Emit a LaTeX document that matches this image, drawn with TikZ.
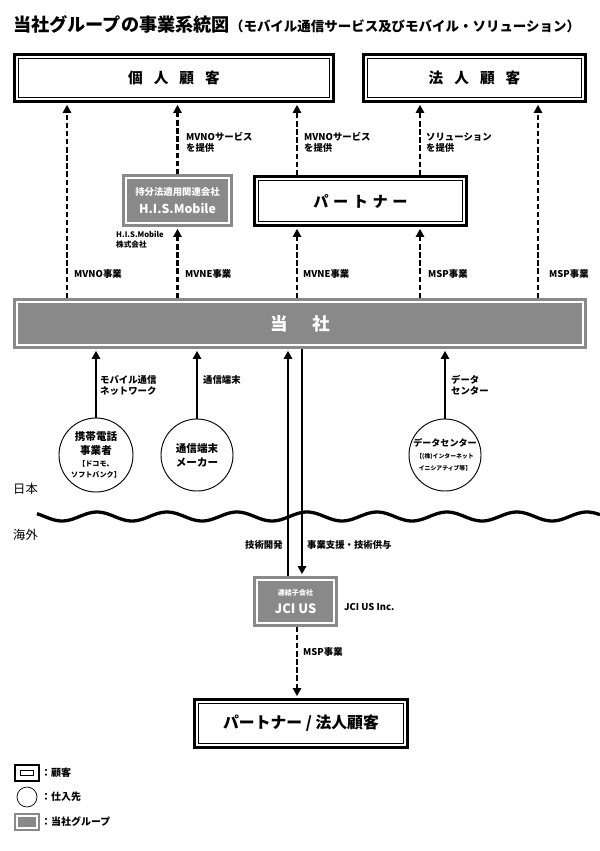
\documentclass[tikz,border=0pt]{standalone}
\usepackage{fontspec}
\setmainfont{Noto Sans CJK JP}
\usetikzlibrary{positioning,arrows.meta}
\definecolor{grpgray}{RGB}{137,137,137}
\newcommand\gp[1][0.75em]{\hspace{#1}}
\newcommand\fsbig{\fontsize{9}{11}\selectfont}
\newcommand\fssmall{\fontsize{6}{7.5}\selectfont}
\newcommand\fstiny{\fontsize{5}{6.2}\selectfont}

\begin{document}
\begin{tikzpicture}[x=0.03cm, y=-0.03cm,
  cust/.style={draw, line width=2.8pt, fill=white, inner sep=0pt, outer sep=1.4pt,
    path picture={\draw[line width=1pt]
      ([shift={(#1,-#1)}]path picture bounding box.north west) rectangle
      ([shift={(-#1,#1)}]path picture bounding box.south east);}},
  cust/.default=3.4pt,
  grp/.style={draw=grpgray, fill=grpgray, line width=2.2pt, double=white,
    double distance=2.4pt, outer sep=3.4pt, text=white, font=\bfseries,
    align=center, inner sep=0pt},
  vendor/.style={circle, draw, line width=0.8pt, inner sep=0pt, align=center,
    font=\bfseries},
  lbl/.style={anchor=west, align=left, inner sep=0pt,
    font=\fontsize{8}{9.4}\selectfont\bfseries},
  darr/.style={line width=2.3pt, dash pattern=on 4.5pt off 2.4pt, shorten >=1.5pt,
    -{Triangle[length=7pt,width=7pt]}},
  sarr/.style={line width=2pt, shorten >=1.5pt, -{Triangle[length=7pt,width=7pt]}},
]
\useasboundingbox (0,0) rectangle (600,851);

% Title
\node (title) [anchor=west, inner sep=0pt] at (13,24)
  {{\fontsize{15.5}{18}\selectfont\bfseries 当社グループの事業系統図}{\fontsize{11.5}{14}\selectfont\bfseries （モバイル通信サービス及びモバイル・ソリューション）}};

% Row 0: customers
\node (kojin) [cust, minimum width=9.56cm, minimum height=1.40cm,
  font=\fontsize{12.5}{14}\selectfont\bfseries] at (174,78) {個\gp 人\gp 顧\gp 客};
\node (hojin) [cust, minimum width=6.65cm, minimum height=1.40cm,
  font=\fontsize{12.5}{14}\selectfont\bfseries] at (474.5,78) {法\gp 人\gp 顧\gp 客};

% Row 1: H.I.S.Mobile and partner
\node (his) [grp, minimum width=3.09cm, minimum height=1.35cm] at (177.5,200.5)
  {{\fontsize{8}{10}\selectfont 持分法適用関連会社}\\[3pt]{\fontsize{10.5}{12}\selectfont H.I.S.Mobile}};
\node (partner) [cust, minimum width=6.35cm, minimum height=1.46cm,
  font=\fontsize{13}{15}\selectfont\bfseries] at (360.5,201)
  {パ\gp[.3em]ー\gp[.3em]ト\gp[.3em]ナ\gp[.3em]ー};

% Row 2: the company
\node (tosha) [grp, minimum width=16.98cm, minimum height=1.29cm,
  font=\fontsize{15}{18}\selectfont\bfseries] at (300,323.5) {当\hspace{1.4em}社};

% Row 3: suppliers
\node (carrier) [vendor, minimum size=2.22cm] at (96,455)
  {\fsbig 携帯電話\\\fsbig 事業者\\[-2pt]\fssmall 【ドコモ、\\[-2.5pt]\fssmall ソフトバンク】};
\node (maker) [vendor, minimum size=2.16cm] at (197,455)
  {\fsbig 通信端末\\\fsbig メーカー};
\node (dc) [vendor, minimum size=2.16cm] at (445,455)
  {{\fontsize{7.7}{9}\selectfont データセンター}\\[-1.5pt]\fstiny 【(株)インターネット\\[-2pt]\fstiny イニシアティブ等】};

% Row 4: overseas
\node (jci) [grp, minimum width=2.31cm, minimum height=1.29cm] at (295.5,601.5)
  {{\fontsize{6}{7}\selectfont 連結子会社}\\[3pt]{\fontsize{11}{13}\selectfont JCI US}};
\node (pc) [cust, minimum width=6.38cm, minimum height=1.43cm,
  font=\fontsize{13.5}{15}\selectfont\bfseries] at (301,723.5) {パートナー / 法人顧客};

% Japan / overseas
\node (japan) [anchor=west, inner sep=0pt, font=\fontsize{10.5}{12}\selectfont] at (13,489) {日本};
\node (abroad) [anchor=west, inner sep=0pt, font=\fontsize{10.5}{12}\selectfont] at (13,535) {海外};
\draw[line width=2.8pt] plot[domain=37:600, samples=220, smooth]
  (\x, {516.5-4.5*cos((\x-27)/70*360)});

% arrow columns
\coordinate (x1) at (67,0);
\coordinate (x3) at (297,0);
\coordinate (x4) at (420,0);
\coordinate (x5) at (538,0);
\coordinate (up) at (288,0);
\coordinate (dn) at (302,0);

% dashed: services
\draw[darr] (tosha.north -| x1) -- (kojin.south -| x1);
\draw[darr] (tosha.north -| his) -- (his.south);
\draw[darr] (his.north) -- (kojin.south -| his);
\draw[darr] (tosha.north -| x3) -- (partner.south -| x3);
\draw[darr] (partner.north -| x3) -- (kojin.south -| x3);
\draw[darr] (tosha.north -| x4) -- (partner.south -| x4);
\draw[darr] (partner.north -| x4) -- (hojin.south -| x4);
\draw[darr] (tosha.north -| x5) -- (hojin.south -| x5);
\draw[darr] (jci.south -| x3) -- (pc.north -| x3);

% solid: supply
\draw[sarr] (carrier.north) -- (carrier |- tosha.south);
\draw[sarr] (maker.north) -- (maker |- tosha.south);
\draw[sarr] (dc.north) -- (dc |- tosha.south);
\draw[sarr] (jci.north -| up) -- (tosha.south -| up);
\draw[sarr] (tosha.south -| dn) -- (jci.north -| dn);

% labels
\node (l1) [lbl] at (186,142.5) {MVNOサービス\\を提供};
\node (l2) [lbl] at (304,142.5) {MVNOサービス\\を提供};
\node (l3) [lbl] at (426,142.5) {ソリューション\\を提供};
\node (l4) [lbl, font=\fontsize{6.5}{8.2}\selectfont\bfseries] at (116,240) {H.I.S.Mobile\\株式会社};
\node (l5) [lbl] at (74,274) {MVNO事業};
\node (l6) [lbl] at (185,274) {MVNE事業};
\node (l7) [lbl] at (303,274) {MVNE事業};
\node (l8) [lbl] at (428,274) {MSP事業};
\node (l9) [lbl] at (549,274) {MSP事業};
\node (l10) [lbl] at (100,385) {モバイル通信\\ネットワーク};
\node (l11) [lbl] at (203,380) {通信端末};
\node (l12) [lbl] at (451,385) {データ\\センター};
\node (l13) [lbl] at (245,545) {技術開発};
\node (l14) [lbl] at (307,545) {事業支援・技術供与};
\node (l15) [lbl] at (344,607) {JCI US Inc.};
\node (l16) [lbl] at (303,652) {MSP事業};

% legend
\node (legc) [cust=4.5pt, line width=1.6pt, outer sep=0.8pt,
  minimum width=0.72cm, minimum height=0.48cm] at (27,773) {};
\node (legv) [vendor, minimum size=0.6cm, line width=0.6pt] at (27,797) {};
\node (legg) [grp, line width=1.6pt, double distance=1.6pt,
  minimum width=0.61cm, minimum height=0.37cm] at (27,822) {};
\node (legct) [anchor=west, inner sep=0pt, font=\fontsize{8.5}{10}\selectfont\bfseries] at (41,773) {：顧客};
\node (legvt) [anchor=west, inner sep=0pt, font=\fontsize{8.5}{10}\selectfont\bfseries] at (41,797) {：仕入先};
\node (leggt) [anchor=west, inner sep=0pt, font=\fontsize{8.5}{10}\selectfont\bfseries] at (41,822) {：当社グループ};

\end{tikzpicture}
\end{document}
